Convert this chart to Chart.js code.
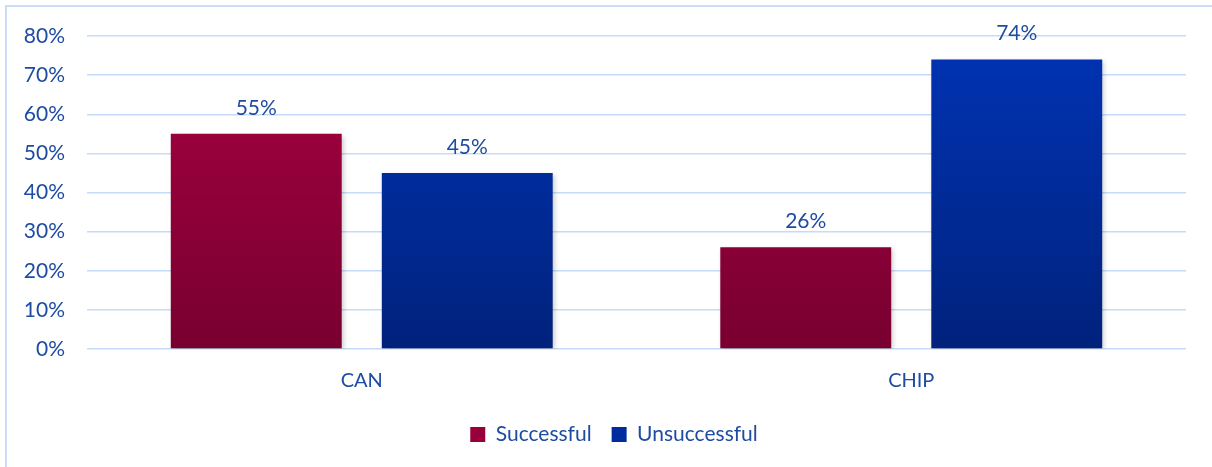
<!DOCTYPE html>
<html>
<head>
<meta charset="utf-8">
<script src="https://cdn.jsdelivr.net/npm/chart.js@4.4.1/dist/chart.umd.min.js"></script>
<style>
  html, body { margin: 0; padding: 0; background: #ffffff; overflow: hidden; }
  #wrap { position: relative; width: 1212px; height: 467px; }
  #frame { position: absolute; left: 5px; top: 5px; width: 1300px; height: 600px;
           border: 2px solid #c9ddf8; pointer-events: none; }
</style>
</head>
<body>
<div id="wrap">
  <canvas id="chart" width="1212" height="467"></canvas>
  <div id="frame"></div>
</div>
<script>
var categories = ["CAN", "CHIP"];
var successful = [55, 26];
var unsuccessful = [45, 74];
var yTicks = [0, 10, 20, 30, 40, 50, 60, 70, 80];

var textColor = "#1e4ca3";
var gridColor = "#c6dbf7";
var fontFamily = "Lato, 'Open Sans', sans-serif";

// vertical gradient over the plot area, light at top, dark at bottom
function barFill(top, bottom, solid){
    return function(ctx){
        var area = ctx.chart.chartArea;
        if(!area) return solid;
        var g = ctx.chart.ctx.createLinearGradient(0, area.top, 0, area.bottom);
        g.addColorStop(0, top);
        g.addColorStop(1, bottom);
        return g;
    };
}

// soft drop shadow under the bars
var barShadow = {
    id: "barShadow",
    beforeDatasetsDraw: function(chart){
        var c = chart.ctx;
        c.save();
        c.shadowColor = "rgba(0,0,0,0.22)";
        c.shadowBlur = 5;
        c.shadowOffsetX = 2;
        c.shadowOffsetY = 2;
    },
    afterDatasetsDraw: function(chart){
        chart.ctx.restore();
    }
};

// centre the legend under the whole frame rather than under the plot
var legendShift = {
    id: "legendShift",
    afterLayout: function(chart){
        if(!chart.legend) return;
        chart.legend.left += 21;
        chart.legend.right += 21;
    }
};

// percentage labels above each bar
var valueLabels = {
    id: "valueLabels",
    afterDatasetsDraw: function(chart){
        var c = chart.ctx;
        c.save();
        c.font = "21px " + fontFamily;
        c.fillStyle = textColor;
        c.textAlign = "center";
        c.textBaseline = "alphabetic";
        chart.data.datasets.forEach(function(ds, i){
            chart.getDatasetMeta(i).data.forEach(function(bar, j){
                c.fillText(ds.data[j] + "%", bar.x, bar.y - 19);
            });
        });
        c.restore();
    }
};

new Chart(document.getElementById("chart"), {
    type: "bar",
    data: {
        labels: categories,
        datasets: [
            {
                label: "Successful",
                data: successful,
                backgroundColor: barFill("#a80042", "#780030", "#92003a"),
                legendColor: "#98003b"
            },
            {
                label: "Unsuccessful",
                data: unsuccessful,
                backgroundColor: barFill("#0033b5", "#00227c", "#002b9a"),
                legendColor: "#002b9e"
            }
        ]
    },
    options: {
        responsive: false,
        animation: false,
        events: [],
        layout: { padding: { left: 0, right: 26, top: 36, bottom: 12 } },
        datasets: {
            bar: { categoryPercentage: 0.768, barPercentage: 0.81 }
        },
        scales: {
            x: {
                grid: { display: false },
                border: { display: false },
                ticks: { color: textColor, font: { family: fontFamily, size: 20 }, padding: 12 },
                afterFit: function(s){ s.height = 55; }
            },
            y: {
                min: 0,
                max: 80,
                afterBuildTicks: function(s){
                    s.ticks = yTicks.map(function(v){ return { value: v }; });
                },
                grid: { color: gridColor, lineWidth: 1.5, drawTicks: false },
                border: { display: false },
                ticks: {
                    color: textColor,
                    font: { family: fontFamily, size: 21 },
                    padding: 22,
                    callback: function(v){ return v + "%"; }
                },
                afterFit: function(s){ s.width = 87; }
            }
        },
        plugins: {
            tooltip: { enabled: false },
            legend: {
                position: "bottom",
                labels: {
                    color: textColor,
                    font: { family: fontFamily, size: 21 },
                    boxWidth: 15,
                    boxHeight: 15,
                    padding: 20,
                    generateLabels: function(chart){
                        return chart.data.datasets.map(function(ds, i){
                            return {
                                text: ds.label,
                                fillStyle: ds.legendColor,
                                strokeStyle: ds.legendColor,
                                lineWidth: 0,
                                fontColor: textColor,
                                datasetIndex: i
                            };
                        });
                    }
                }
            }
        }
    },
    plugins: [barShadow, legendShift, valueLabels]
});
</script>
</body>
</html>
